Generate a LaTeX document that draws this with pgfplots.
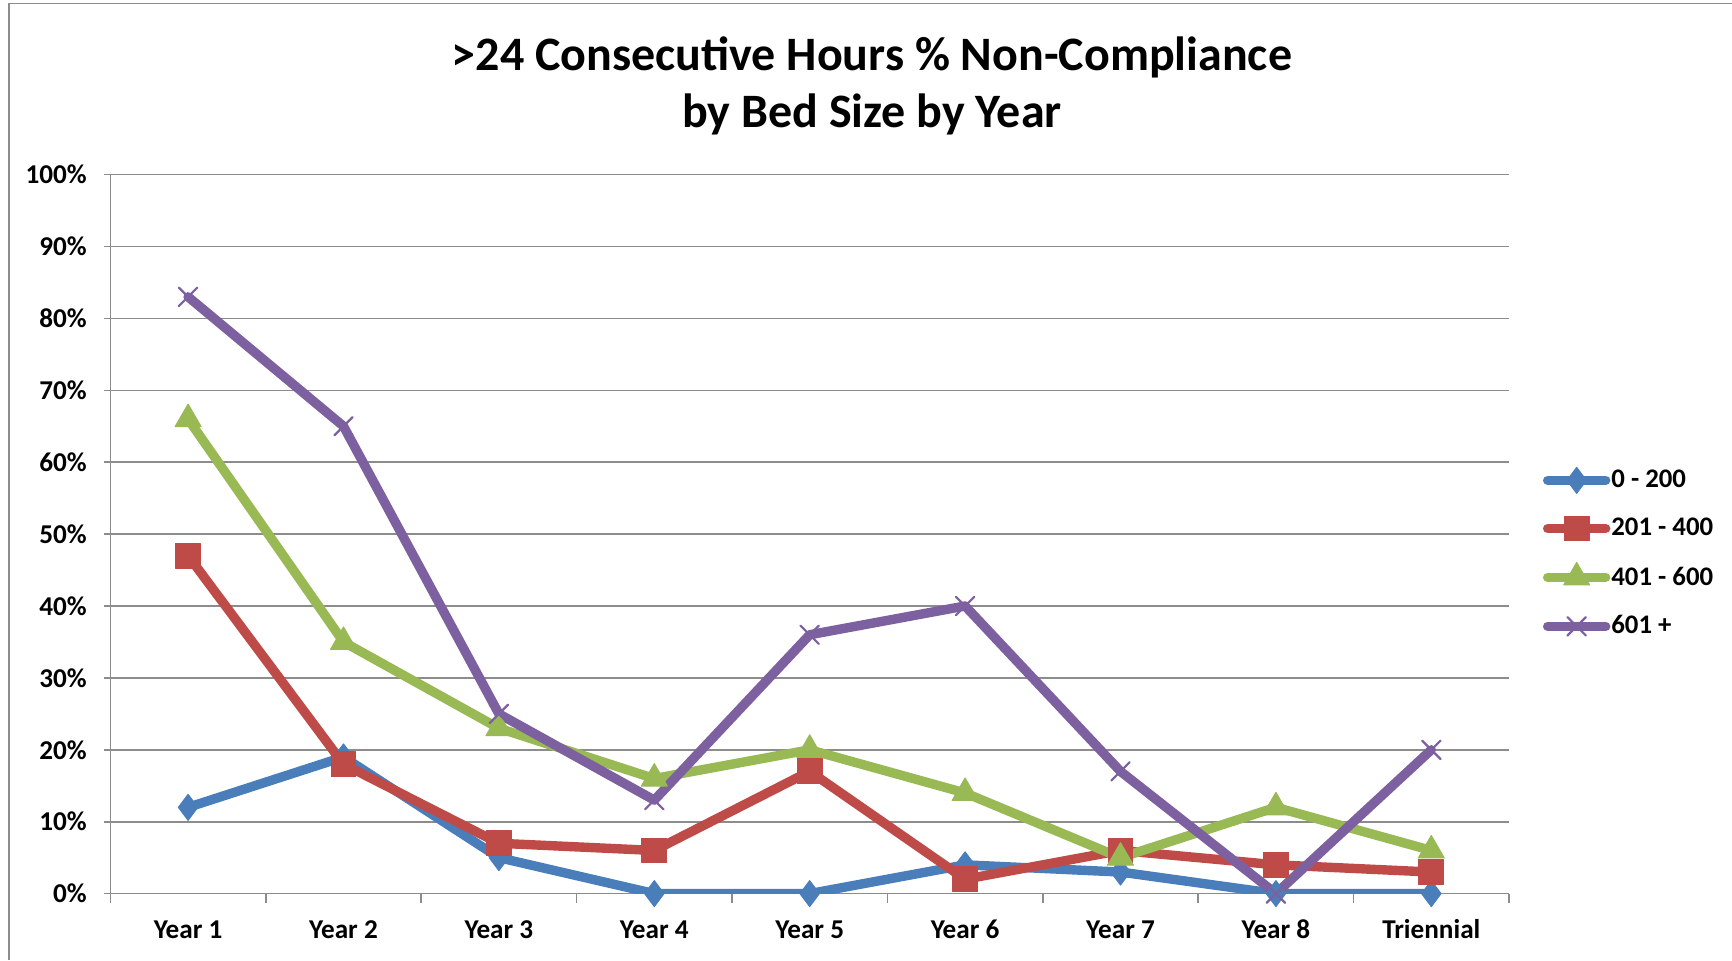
\documentclass[border=0pt]{standalone}
\usepackage{pgfplots}
\pgfplotsset{compat=1.18}
\usepackage{fontspec}
\setmainfont{Carlito}
\definecolor{cblue}{HTML}{4A7EBB}
\definecolor{cred}{HTML}{BE4B48}
\definecolor{cgreen}{HTML}{98B954}
\definecolor{cpurple}{HTML}{7D60A0}
\definecolor{cgrid}{HTML}{8C8C8C}
\begin{document}
\begin{tikzpicture}
\useasboundingbox (0,0) rectangle (866pt,480pt);
\draw[cgrid, line width=0.8pt] (4.4pt,0) -- (4.4pt,478.3pt) -- (866pt,478.3pt);
\node[font=\fontsize{24}{28.7}\selectfont\bfseries, align=center] at (436pt,437pt)
  {>24 Consecutive Hours \% Non-Compliance\\by Bed Size by Year};
\begin{axis}[
  at={(55.2pt,33.2pt)}, anchor=south west,
  scale only axis, width=699.3pt, height=359.5pt,
  xmin=-0.5, xmax=8.5, ymin=0, ymax=100,
  xtick={0,...,8},
  xticklabels={Year 1,Year 2,Year 3,Year 4,Year 5,Year 6,Year 7,Year 8,Triennial},
  minor xtick={-0.5,0.5,...,8.5},
  major x tick style={draw=none},
  minor tick length=4.5pt,
  ytick={0,10,...,100},
  yticklabels={0\%,10\%,20\%,30\%,40\%,50\%,60\%,70\%,80\%,90\%,100\%},
  ymajorgrids, grid style={cgrid, line width=0.8pt},
  major tick length=3.3pt,
  tick align=outside, xtick pos=bottom, ytick pos=left,
  tick style={cgrid, line width=0.8pt},
  axis x line*=bottom, axis y line*=left,
  axis line style={cgrid, line width=0.8pt, -},
  ticklabel style={font=\fontsize{13.6}{15}\selectfont\bfseries},
  xticklabel style={yshift=-6pt, text height=9.5pt, text depth=2pt},
  yticklabel style={xshift=-5pt},
  legend style={at={(1.024,0.473)}, anchor=west, draw=none, fill=none,
    font=\fontsize{13.4}{16}\selectfont\bfseries, row sep=9.8pt,
    inner sep=0pt, legend cell align=left,
    nodes={inner xsep=0.5pt}},
  legend image code/.code={
    \draw[#1, mark=none] (0pt,0pt) -- (29pt,0pt);
    \draw[#1, mark repeat=1] plot coordinates {(14.5pt,0pt)};
  },
  every axis plot/.append style={line width=4.7pt, line join=round, line cap=round},
]
\addplot[cblue, mark=diamond*, mark size=6.5pt, mark options={solid, line width=0.5pt}]
  coordinates {(0,12)(1,19)(2,5)(3,0)(4,0)(5,4)(6,3)(7,0)(8,0)};
\addlegendentry{0 - 200}
\addplot[cred, mark=square*, mark size=6.2pt, mark options={solid, line width=0.5pt}]
  coordinates {(0,47)(1,18)(2,7)(3,6)(4,17)(5,2)(6,6)(7,4)(8,3)};
\addlegendentry{201 - 400}
\addplot[cgreen, mark=triangle*, mark size=7.5pt, mark options={solid, line width=0.5pt}]
  coordinates {(0,66)(1,35)(2,23)(3,16)(4,20)(5,14)(6,5)(7,12)(8,6)};
\addlegendentry{401 - 600}
\addplot[cpurple, mark=x, mark size=6.5pt, mark options={solid, line width=1.1pt}]
  coordinates {(0,83)(1,65)(2,25)(3,13)(4,36)(5,40)(6,17)(7,0)(8,20)};
\addlegendentry{601 +}
\end{axis}
\end{tikzpicture}
\end{document}
